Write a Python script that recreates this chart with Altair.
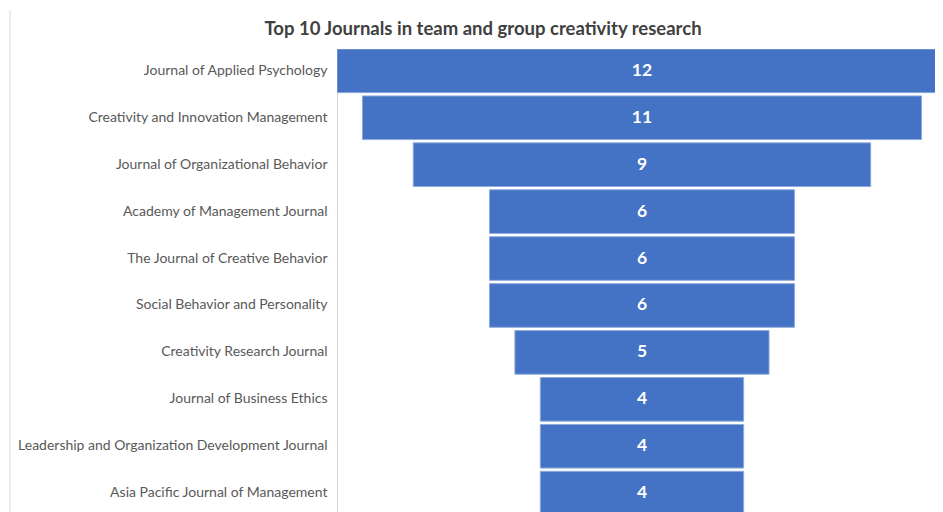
import altair as alt
import pandas as pd

journals = [
    "Journal of Applied Psychology",
    "Creativity and Innovation Management",
    "Journal of Organizational Behavior",
    "Academy of Management Journal",
    "The Journal of Creative Behavior",
    "Social Behavior and Personality",
    "Creativity Research Journal",
    "Journal of Business Ethics",
    "Leadership and Organization Development Journal",
    "Asia Pacific Journal of Management",
]
counts = [12, 11, 9, 6, 6, 6, 5, 4, 4, 4]
title_text = "Top 10 Journals in team and group creativity research"

df = pd.DataFrame({"journal": journals, "count": counts})

FONT = "Lato"
BLUE = "#4472C4"

base = alt.Chart(df).transform_calculate(
    start="-datum.count / 2", end="datum.count / 2", mid="0"
)

yenc = alt.Y(
    "journal:N",
    sort=journals,
    title=None,
    scale=alt.Scale(paddingInner=0.07, paddingOuter=0.0),
    axis=alt.Axis(
        ticks=False,
        labelFontSize=14,
        labelColor="#595959",
        labelFont=FONT,
        labelPadding=10,
        domainColor="#d9d9d9",
        domainWidth=1,
        labelLimit=400,
    ),
)

xscale = alt.Scale(domain=[-6, 5.765], nice=False, zero=False)

bars = base.mark_bar(color=BLUE, stroke="#8faadc", strokeWidth=1, clip=True).encode(
    y=yenc,
    x=alt.X("start:Q", scale=xscale, axis=None),
    x2="end:Q",
)

labels = base.mark_text(
    color="white", fontSize=17.5, font=FONT, fontWeight="bold", baseline="middle"
).encode(
    y=alt.Y("journal:N", sort=journals),
    x=alt.X("mid:Q", scale=xscale),
    text="count:Q",
)

title = alt.Chart(pd.DataFrame({"t": [title_text]})).mark_text(
    fontSize=18.5, fontWeight="bold", font=FONT, color="#404040",
    align="center", baseline="alphabetic",
).encode(x=alt.value(146), y=alt.value(-14), text="t:N")

left_line = alt.Chart(pd.DataFrame({"a": [0]})).mark_rule(
    color="#d9d9d9", strokeWidth=1
).encode(x=alt.value(-327), y=alt.value(-39), y2=alt.value(470))

chart = alt.layer(left_line, bars, labels, title).properties(
    width=598,
    height=466,
    autosize=alt.AutoSizeParams(type="none"),
    padding={"left": 329, "top": 41, "right": 0, "bottom": 0},
).configure_view(stroke=None).configure_axis(grid=False)

chart.save("out.html", embed_options={"renderer": "svg", "actions": False})
